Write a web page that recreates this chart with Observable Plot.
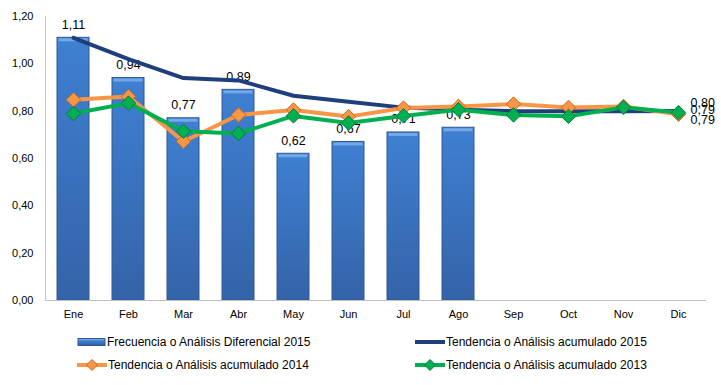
<!DOCTYPE html>
<html><head><meta charset="utf-8">
<script src="https://cdn.jsdelivr.net/npm/d3@7"></script>
<script src="https://cdn.jsdelivr.net/npm/@observablehq/plot@0.6"></script>
<style>
body{margin:0;background:#fff;font-family:"Liberation Sans",Arial,sans-serif;}
#chart{position:relative;width:721px;height:385px;overflow:hidden;}
#chart svg.plot{position:absolute;left:0;top:0;}
.leg{position:absolute;font-size:12px;color:#000;display:flex;align-items:center;height:20px;white-space:nowrap;}
.leg svg{display:block;margin-right:1px;}
</style></head><body><div id="chart"></div>
<script>
const months = ["Ene","Feb","Mar","Abr","May","Jun","Jul","Ago","Sep","Oct","Nov","Dic"];
const freq2015 = [1.11, 0.94, 0.77, 0.89, 0.62, 0.67, 0.71, 0.73];
const tend2015 = [1.11, 1.02, 0.94, 0.93, 0.865, 0.84, 0.815, 0.806, 0.80, 0.80, 0.80, 0.801];
const tend2014 = [0.848, 0.862, 0.672, 0.784, 0.805, 0.777, 0.813, 0.82, 0.83, 0.816, 0.82, 0.787];
const tend2013 = [0.79, 0.834, 0.715, 0.706, 0.78, 0.75, 0.78, 0.806, 0.784, 0.778, 0.816, 0.794];
const yTicks = [0, 0.2, 0.4, 0.6, 0.8, 1.0, 1.2];
const seriesNames = [
  "Frecuencia o Análisis Diferencial 2015",
  "Tendencia o Análisis acumulado 2015",
  "Tendencia o Análisis acumulado 2014",
  "Tendencia o Análisis acumulado 2013"
];

const fmt = v => v.toFixed(2).replace(".", ",");
const bars = freq2015.map((v, i) => ({m: months[i], v}));
const mk = arr => arr.map((v, i) => ({m: months[i], v}));
const s15 = mk(tend2015), s14 = mk(tend2014), s13 = mk(tend2013);
const last = a => [a[a.length - 1]];

const NAVY = "#1f3f7c", ORANGE = "#f79646", GREEN = "#00b050";

const plot = Plot.plot({
  width: 721, height: 326,
  marginLeft: 45, marginRight: 15, marginTop: 16, marginBottom: 26,
  style: {fontFamily: "'Liberation Sans', Arial, sans-serif", fontSize: "11px", color: "#000", background: "transparent"},
  x: {domain: months, type: "band", paddingInner: 0.42, paddingOuter: 0.21, label: null},
  y: {domain: [0, 1.2], label: null},
  marks: [
    Plot.axisY({ticks: yTicks, tickSize: 0, tickPadding: 12, tickFormat: fmt, fontSize: 11}),
    Plot.axisX({tickSize: 0, tickPadding: 10, fontSize: 11}),
    Plot.barY(bars, {x: "m", y: "v", fill: "url(#barGrad)", stroke: "#2e5b96", strokeWidth: 1}),
    Plot.tickY(bars, {x: "m", y: "v", dy: 2, stroke: "#74a8e6", strokeWidth: 3, insetLeft: 1.5, insetRight: 1.5}),
    Plot.ruleY([0], {stroke: "#bfbfbf", strokeWidth: 1}),
    Plot.text(bars, {x: "m", y: "v", text: d => fmt(d.v), dy: -13, fontSize: 12.5, fill: "#000"}),
    Plot.line(s15, {x: "m", y: "v", stroke: NAVY, strokeWidth: 4, curve: "linear"}),
    Plot.line(s14, {x: "m", y: "v", stroke: ORANGE, strokeWidth: 4}),
    Plot.dot(s14, {x: "m", y: "v", symbol: "diamond2", r: 6.5, fill: ORANGE, stroke: "#c96a1c", strokeWidth: 1}),
    Plot.line(s13, {x: "m", y: "v", stroke: GREEN, strokeWidth: 4}),
    Plot.dot(s13, {x: "m", y: "v", symbol: "diamond2", r: 6.5, fill: GREEN, stroke: "#0a7a3a", strokeWidth: 1}),
    Plot.text(last(s15), {x: "m", y: "v", text: d => fmt(d.v), textAnchor: "start", dx: 12, dy: -8, fontSize: 12.5, fill: "#000"}),
    Plot.text(last(s14), {x: "m", y: "v", text: d => fmt(d.v), textAnchor: "start", dx: 12, dy: 6, fontSize: 12.5, fill: "#000"}),
    Plot.text(last(s13), {x: "m", y: "v", text: d => fmt(d.v), textAnchor: "start", dx: 12, dy: -3, fontSize: 12.5, fill: "#000"})
  ]
});
plot.classList.add("plot");

const svgSel = d3.select(plot);
const defs = svgSel.insert("defs", ":first-child");
const g = defs.append("linearGradient").attr("id", "barGrad").attr("x1", 0).attr("y1", 0).attr("x2", 0).attr("y2", 1);
g.append("stop").attr("offset", "0%").attr("stop-color", "#3f80d2");
g.append("stop").attr("offset", "100%").attr("stop-color", "#3463a8");

// vertical value-axis line, placed from the library's own scales
const xs = plot.scale("x"), ys = plot.scale("y");
const axX = Math.min(...xs.range) + 0.5;
svgSel.insert("line", "defs + *")
  .attr("x1", axX).attr("x2", axX)
  .attr("y1", Math.min(...ys.range)).attr("y2", Math.max(...ys.range))
  .attr("stroke", "#c8c8c8").attr("stroke-width", 1);

const chart = document.getElementById("chart");
chart.appendChild(plot);

// legend
function swatchBar() {
  return `<svg width="29" height="10"><defs><linearGradient id="lg1" x1="0" y1="0" x2="0" y2="1"><stop offset="0" stop-color="#8fbdf0"/><stop offset="0.35" stop-color="#3f80d2"/><stop offset="1" stop-color="#2f5d9e"/></linearGradient></defs><rect x="1" y="1.5" width="27" height="7" fill="url(#lg1)" stroke="#2e5b96"/></svg>`;
}
function swatchLine(c, dc, marker) {
  return `<svg width="30" height="14"><line x1="0" x2="30" y1="7" y2="7" stroke="${c}" stroke-width="4"/>` +
    (marker ? `<path d="M15,1.5L20.5,7L15,12.5L9.5,7Z" fill="${c}" stroke="${dc}" stroke-width="1"/>` : "") + `</svg>`;
}
const legendItems = [
  {sw: swatchBar(), name: seriesNames[0], left: 77, top: 332},
  {sw: swatchLine(NAVY, NAVY, false), name: seriesNames[1], left: 415, top: 332},
  {sw: swatchLine(ORANGE, "#c96a1c", true), name: seriesNames[2], left: 77, top: 355},
  {sw: swatchLine(GREEN, "#0a7a3a", true), name: seriesNames[3], left: 415, top: 355}
];
for (const it of legendItems) {
  const d = document.createElement("div");
  d.className = "leg";
  d.style.left = it.left + "px";
  d.style.top = it.top + "px";
  d.innerHTML = it.sw + `<span>${it.name}</span>`;
  chart.appendChild(d);
}
</script>
</body></html>
